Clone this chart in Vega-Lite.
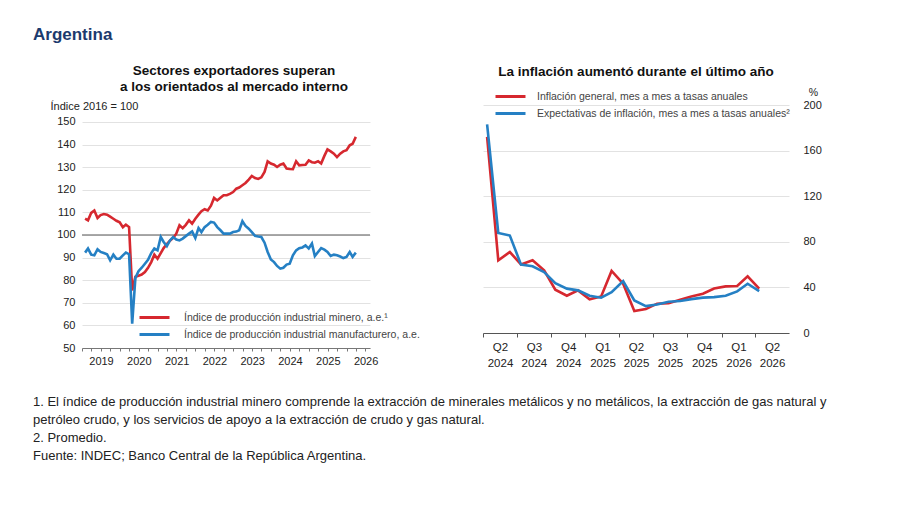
{
  "$schema": "https://vega.github.io/schema/vega-lite/v6.json",
  "background": "white",
  "padding": {"left": 33, "top": 25, "right": 5, "bottom": 5},
  "config": {
    "font": "Liberation Sans",
    "view": {"stroke": null},
    "axis": {"labelColor": "#222", "labelFontSize": 11, "gridColor": "#e2e2e2", "gridWidth": 1, "tickColor": "#666", "domainColor": "#666", "titleColor": "#222"},
    "legend": {"padding": 0, "labelColor": "#444", "labelLimit": 400}
  },
  "title": {"text": "Argentina", "anchor": "start", "fontSize": 17, "fontWeight": "bold", "color": "#1c3a6e", "offset": 20},
  "vconcat": [
    {
      "title": {
        "text": [
          "1. El índice de producción industrial minero comprende la extracción de minerales metálicos y no metálicos, la extracción de gas natural y",
          "petróleo crudo, y los servicios de apoyo a la extracción de crudo y gas natural.",
          "2. Promedio.",
          "Fuente: INDEC; Banco Central de la República Argentina."
        ],
        "orient": "bottom", "anchor": "start", "fontSize": 13, "fontWeight": "normal", "lineHeight": 18, "offset": 27, "dx": -17, "color": "#222"
      },
      "spacing": 61,
      "resolve": {"scale": {"color": "independent"}, "legend": {"color": "independent"}},
      "hconcat": [
        {
          "width": 288,
          "height": 243,
          "title": {"text": ["Sectores exportadores superan", "a los orientados al mercado interno"], "fontSize": 13.5, "fontWeight": "bold", "frame": "group", "anchor": "middle", "dx": 8, "offset": 7, "lineHeight": 16, "color": "#111"},
          "layer": [
            {
              "data": {"values": [{"ref": 100}]},
              "mark": {"type": "rule", "color": "#8c8c8c", "strokeWidth": 1.6},
              "encoding": {"y": {"field": "ref", "type": "quantitative",
                "scale": {"domain": [50, 157.52], "nice": false, "zero": false},
                "axis": {"values": [50, 60, 70, 80, 90, 100, 110, 120, 130, 140, 150], "ticks": false, "domain": false, "grid": true, "labelPadding": 7, "title": "Índice 2016 = 100", "titleAngle": 0, "titleAlign": "left", "titleBaseline": "middle", "titleX": -32, "titleY": 1, "titleFontWeight": "normal", "titleFontSize": 11}}}
            },
            {
              "data": {"values": [
                {"mes": "2019-01-31", "minero": 107.2, "manufacturero": 92.2},
                {"mes": "2019-02-28", "minero": 106.5, "manufacturero": 94.0},
                {"mes": "2019-03-31", "minero": 109.8, "manufacturero": 91.3},
                {"mes": "2019-04-30", "minero": 110.8, "manufacturero": 91.0},
                {"mes": "2019-05-31", "minero": 107.5, "manufacturero": 93.7},
                {"mes": "2019-06-30", "minero": 108.8, "manufacturero": 92.5},
                {"mes": "2019-07-31", "minero": 109.3, "manufacturero": 92.0},
                {"mes": "2019-08-31", "minero": 109.0, "manufacturero": 91.5},
                {"mes": "2019-09-30", "minero": 108.1, "manufacturero": 88.8},
                {"mes": "2019-10-31", "minero": 107.2, "manufacturero": 91.3},
                {"mes": "2019-11-30", "minero": 106.3, "manufacturero": 89.5},
                {"mes": "2019-12-31", "minero": 105.6, "manufacturero": 89.5},
                {"mes": "2020-01-31", "minero": 103.4, "manufacturero": 91.0},
                {"mes": "2020-02-29", "minero": 104.6, "manufacturero": 92.2},
                {"mes": "2020-03-31", "minero": 103.5, "manufacturero": 91.5},
                {"mes": "2020-04-30", "minero": 75.5, "manufacturero": 60.8},
                {"mes": "2020-05-31", "minero": 81.5, "manufacturero": 81.0},
                {"mes": "2020-06-30", "minero": 82.0, "manufacturero": 84.0},
                {"mes": "2020-07-31", "minero": 82.5, "manufacturero": 85.5},
                {"mes": "2020-08-31", "minero": 83.6, "manufacturero": 87.3},
                {"mes": "2020-09-30", "minero": 85.5, "manufacturero": 89.0},
                {"mes": "2020-10-31", "minero": 88.0, "manufacturero": 92.0},
                {"mes": "2020-11-30", "minero": 91.3, "manufacturero": 94.0},
                {"mes": "2020-12-31", "minero": 89.5, "manufacturero": 93.2},
                {"mes": "2021-01-31", "minero": 92.0, "manufacturero": 99.1},
                {"mes": "2021-02-28", "minero": 94.2, "manufacturero": 96.9},
                {"mes": "2021-03-31", "minero": 96.0, "manufacturero": 95.1},
                {"mes": "2021-04-30", "minero": 97.5, "manufacturero": 97.6},
                {"mes": "2021-05-31", "minero": 98.7, "manufacturero": 99.1},
                {"mes": "2021-06-30", "minero": 100.6, "manufacturero": 98.0},
                {"mes": "2021-07-31", "minero": 104.3, "manufacturero": 97.6},
                {"mes": "2021-08-31", "minero": 103.0, "manufacturero": 98.4},
                {"mes": "2021-09-30", "minero": 104.5, "manufacturero": 99.5},
                {"mes": "2021-10-31", "minero": 106.5, "manufacturero": 100.6},
                {"mes": "2021-11-30", "minero": 105.0, "manufacturero": 101.6},
                {"mes": "2021-12-31", "minero": 107.2, "manufacturero": 98.7},
                {"mes": "2022-01-31", "minero": 109.0, "manufacturero": 103.1},
                {"mes": "2022-02-28", "minero": 110.5, "manufacturero": 101.3},
                {"mes": "2022-03-31", "minero": 111.4, "manufacturero": 103.5},
                {"mes": "2022-04-30", "minero": 110.9, "manufacturero": 104.5},
                {"mes": "2022-05-31", "minero": 113.0, "manufacturero": 105.8},
                {"mes": "2022-06-30", "minero": 116.4, "manufacturero": 105.5},
                {"mes": "2022-07-31", "minero": 115.3, "manufacturero": 103.5},
                {"mes": "2022-08-31", "minero": 116.5, "manufacturero": 102.1},
                {"mes": "2022-09-30", "minero": 117.6, "manufacturero": 100.6},
                {"mes": "2022-10-31", "minero": 117.6, "manufacturero": 100.6},
                {"mes": "2022-11-30", "minero": 118.2, "manufacturero": 100.6},
                {"mes": "2022-12-31", "minero": 119.0, "manufacturero": 101.3},
                {"mes": "2023-01-31", "minero": 120.5, "manufacturero": 101.5},
                {"mes": "2023-02-28", "minero": 121.0, "manufacturero": 102.1},
                {"mes": "2023-03-31", "minero": 122.0, "manufacturero": 106.1},
                {"mes": "2023-04-30", "minero": 123.0, "manufacturero": 104.0},
                {"mes": "2023-05-31", "minero": 124.5, "manufacturero": 102.8},
                {"mes": "2023-06-30", "minero": 126.1, "manufacturero": 101.3},
                {"mes": "2023-07-31", "minero": 125.2, "manufacturero": 99.6},
                {"mes": "2023-08-31", "minero": 124.8, "manufacturero": 99.3},
                {"mes": "2023-09-30", "minero": 125.5, "manufacturero": 99.1},
                {"mes": "2023-10-31", "minero": 127.9, "manufacturero": 96.6},
                {"mes": "2023-11-30", "minero": 132.6, "manufacturero": 92.5},
                {"mes": "2023-12-31", "minero": 131.6, "manufacturero": 89.2},
                {"mes": "2024-01-31", "minero": 131.1, "manufacturero": 88.0},
                {"mes": "2024-02-29", "minero": 130.1, "manufacturero": 86.3},
                {"mes": "2024-03-31", "minero": 131.1, "manufacturero": 85.1},
                {"mes": "2024-04-30", "minero": 131.6, "manufacturero": 85.5},
                {"mes": "2024-05-31", "minero": 129.4, "manufacturero": 86.9},
                {"mes": "2024-06-30", "minero": 129.2, "manufacturero": 87.3},
                {"mes": "2024-07-31", "minero": 129.1, "manufacturero": 91.0},
                {"mes": "2024-08-31", "minero": 132.6, "manufacturero": 93.2},
                {"mes": "2024-09-30", "minero": 130.8, "manufacturero": 94.2},
                {"mes": "2024-10-31", "minero": 131.0, "manufacturero": 94.5},
                {"mes": "2024-11-30", "minero": 131.1, "manufacturero": 95.4},
                {"mes": "2024-12-31", "minero": 133.0, "manufacturero": 94.0},
                {"mes": "2025-01-31", "minero": 132.2, "manufacturero": 96.2},
                {"mes": "2025-02-28", "minero": 132.0, "manufacturero": 90.7},
                {"mes": "2025-03-31", "minero": 132.6, "manufacturero": 92.5},
                {"mes": "2025-04-30", "minero": 131.6, "manufacturero": 94.2},
                {"mes": "2025-05-31", "minero": 135.0, "manufacturero": 93.5},
                {"mes": "2025-06-30", "minero": 137.9, "manufacturero": 92.5},
                {"mes": "2025-07-31", "minero": 137.0, "manufacturero": 90.7},
                {"mes": "2025-08-31", "minero": 136.0, "manufacturero": 91.3},
                {"mes": "2025-09-30", "minero": 134.5, "manufacturero": 91.0},
                {"mes": "2025-10-31", "minero": 136.0, "manufacturero": 90.5},
                {"mes": "2025-11-30", "minero": 137.0, "manufacturero": 89.8},
                {"mes": "2025-12-31", "minero": 137.5, "manufacturero": 90.3},
                {"mes": "2026-01-31", "minero": 139.7, "manufacturero": 92.5},
                {"mes": "2026-02-28", "minero": 140.4, "manufacturero": 90.3},
                {"mes": "2026-03-31", "minero": 143.4, "manufacturero": 92.2}
              ]},
              "transform": [{"fold": ["minero", "manufacturero"], "as": ["serie", "valor"]}],
              "mark": {"type": "line", "strokeWidth": 2.6},
              "encoding": {
                "x": {
                  "field": "mes", "type": "temporal",
                  "scale": {"type": "utc", "domain": [{"year": 2019, "month": 1, "date": 1, "utc": true}, {"year": 2026, "month": 8, "date": 15, "utc": true}]},
                  "axis": {"title": null, "grid": false, "tickCount": {"interval": "month", "step": 3}, "labelExpr": "utcmonth(datum.value) == 0 ? utcFormat(datum.value, '%Y') : ''", "labelOffset": 19, "labelOverlap": false, "labelFlush": false, "labelBound": false, "tickSize": 3, "labelPadding": 4, "domainColor": "#777", "tickColor": "#777"}
                },
                "y": {
                  "field": "valor", "type": "quantitative",
                  "scale": {"domain": [50, 157.52], "nice": false, "zero": false},
                  "axis": {"values": [50, 60, 70, 80, 90, 100, 110, 120, 130, 140, 150], "ticks": false, "domain": false, "grid": true, "labelPadding": 7, "title": "Índice 2016 = 100", "titleAngle": 0, "titleAlign": "left", "titleBaseline": "middle", "titleX": -32, "titleY": 1, "titleFontWeight": "normal", "titleFontSize": 11}
                },
                "color": {
                  "field": "serie", "type": "nominal",
                  "scale": {"domain": ["minero", "manufacturero"], "range": ["#d6282f", "#2580c4"]},
                  "legend": {"orient": "none", "legendX": 66, "legendY": 206, "title": null, "symbolType": "M-3,0H3", "symbolSize": 100, "symbolStrokeWidth": 3, "labelFontSize": 10.5, "labelOffset": 23, "rowPadding": 4,
                    "labelExpr": "datum.label == 'minero' ? 'Índice de producción industrial minero, a.e.¹' : 'Índice de producción industrial manufacturero, a.e.'"}
                }
              }
            }
          ]
        },
        {
          "width": 306,
          "height": 228,
          "title": {"text": "La inflación aumentó durante el último año", "fontSize": 13.5, "fontWeight": "bold", "frame": "group", "anchor": "middle", "offset": 9, "color": "#111"},
          "data": {"values": [
            {"mes": "2024-04-12", "general": 172.0, "expectativas": 183.0},
            {"mes": "2024-05-12", "general": 63.8, "expectativas": 87.8},
            {"mes": "2024-06-12", "general": 71.0, "expectativas": 85.5},
            {"mes": "2024-07-12", "general": 60.2, "expectativas": 60.0},
            {"mes": "2024-08-12", "general": 63.8, "expectativas": 58.5},
            {"mes": "2024-09-12", "general": 55.0, "expectativas": 53.5},
            {"mes": "2024-10-12", "general": 38.0, "expectativas": 43.8},
            {"mes": "2024-11-12", "general": 32.7, "expectativas": 38.9},
            {"mes": "2024-12-12", "general": 37.4, "expectativas": 37.4},
            {"mes": "2025-01-12", "general": 29.5, "expectativas": 32.7},
            {"mes": "2025-02-12", "general": 32.0, "expectativas": 31.0},
            {"mes": "2025-03-12", "general": 54.4, "expectativas": 35.9},
            {"mes": "2025-04-12", "general": 43.2, "expectativas": 45.6},
            {"mes": "2025-05-12", "general": 19.2, "expectativas": 28.6},
            {"mes": "2025-06-12", "general": 21.0, "expectativas": 23.6},
            {"mes": "2025-07-12", "general": 25.7, "expectativas": 25.0},
            {"mes": "2025-08-12", "general": 26.2, "expectativas": 27.4},
            {"mes": "2025-09-12", "general": 29.2, "expectativas": 28.0},
            {"mes": "2025-10-12", "general": 32.0, "expectativas": 29.7},
            {"mes": "2025-11-12", "general": 34.5, "expectativas": 31.0},
            {"mes": "2025-12-12", "general": 39.0, "expectativas": 31.5},
            {"mes": "2026-01-12", "general": 40.9, "expectativas": 32.7},
            {"mes": "2026-02-12", "general": 41.2, "expectativas": 36.5},
            {"mes": "2026-03-12", "general": 49.7, "expectativas": 43.2},
            {"mes": "2026-04-12", "general": 39.0, "expectativas": 36.8}
          ]},
          "transform": [{"fold": ["general", "expectativas"], "as": ["serie", "valor"]}],
          "mark": {"type": "line", "strokeWidth": 2.6},
          "encoding": {
            "x": {
              "field": "mes", "type": "temporal",
              "scale": {"type": "utc", "domain": [{"year": 2024, "month": 4, "date": 1, "utc": true}, {"year": 2026, "month": 7, "date": 1, "utc": true}]},
              "axis": {"title": null, "grid": false,
                "values": [
                  {"year": 2024, "month": 4, "date": 1, "utc": true},
                  {"year": 2024, "month": 7, "date": 1, "utc": true},
                  {"year": 2024, "month": 10, "date": 1, "utc": true},
                  {"year": 2025, "month": 1, "date": 1, "utc": true},
                  {"year": 2025, "month": 4, "date": 1, "utc": true},
                  {"year": 2025, "month": 7, "date": 1, "utc": true},
                  {"year": 2025, "month": 10, "date": 1, "utc": true},
                  {"year": 2026, "month": 1, "date": 1, "utc": true},
                  {"year": 2026, "month": 4, "date": 1, "utc": true}
                ],
                "labelExpr": "['Q' + utcquarter(datum.value), utcFormat(datum.value, '%Y')]",
                "labelOffset": 17, "labelLineHeight": 16, "labelFontSize": 11.5, "labelOverlap": false, "labelFlush": false, "labelBound": false,
                "tickSize": 4, "labelPadding": 4, "domainColor": "#555", "tickColor": "#555"}
            },
            "y": {
              "field": "valor", "type": "quantitative",
              "scale": {"domain": [0, 200], "nice": false},
              "axis": {"orient": "right", "values": [0, 40, 80, 120, 160, 200], "ticks": false, "domain": false, "grid": true, "labelAlign": "left", "labelPadding": 14, "title": "%", "titleAngle": 0, "titleAlign": "center", "titleBaseline": "middle", "titleX": 24, "titleY": -13, "titleFontWeight": "normal", "titleFontSize": 10.5}
            },
            "color": {
              "field": "serie", "type": "nominal",
              "scale": {"domain": ["general", "expectativas"], "range": ["#d6282f", "#2580c4"]},
              "legend": {"orient": "none", "legendX": 21, "legendY": -15, "title": null, "symbolType": "M-3,0H3", "symbolSize": 100, "symbolStrokeWidth": 3, "labelFontSize": 10.5, "labelOffset": 20, "rowPadding": 4,
                "labelExpr": "datum.label == 'general' ? 'Inflación general, mes a mes a tasas anuales' : 'Expectativas de inflación, mes a mes a tasas anuales²'"}
            }
          }
        }
      ]
    }
  ]
}
